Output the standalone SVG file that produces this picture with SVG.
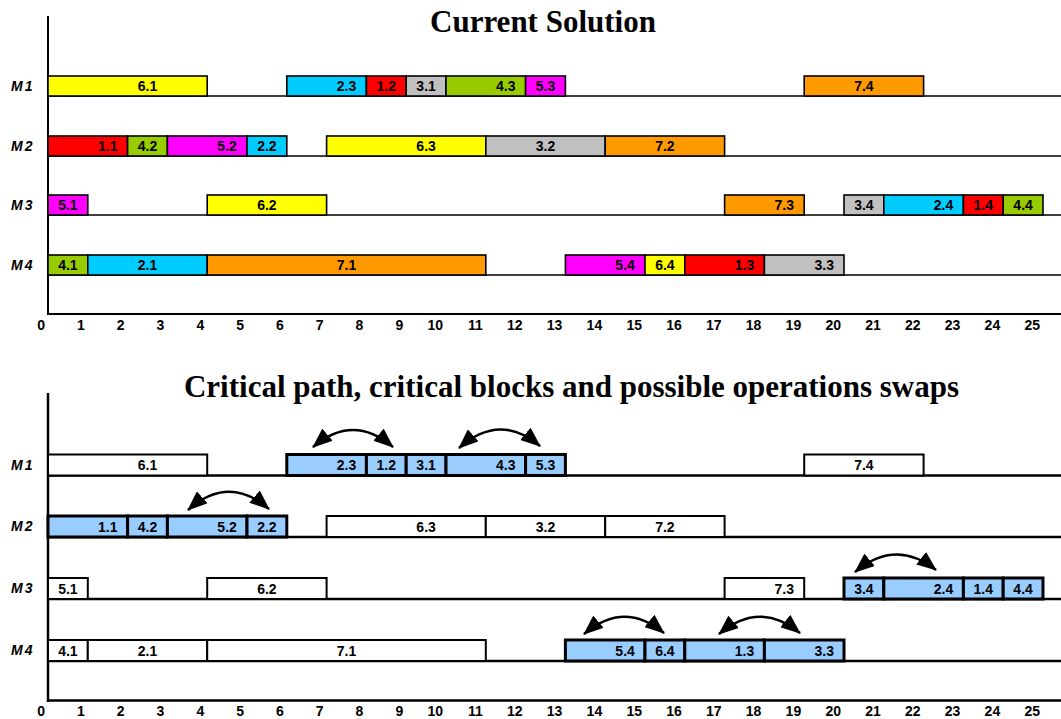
<svg xmlns="http://www.w3.org/2000/svg" width="1061" height="719" viewBox="0 0 1061 719">
<style>
.title{font-family:"Liberation Serif","Times New Roman",serif;font-weight:bold;font-size:31px;fill:#000;text-anchor:middle}
.lbl{font-family:"Liberation Sans",Arial,sans-serif;font-weight:bold;font-size:14px;fill:#000;text-anchor:middle}
.tick{font-family:"Liberation Sans",Arial,sans-serif;font-weight:bold;font-size:14px;fill:#000;text-anchor:end}
.mach{font-family:"Liberation Sans",Arial,sans-serif;font-weight:bold;font-style:italic;font-size:14px;letter-spacing:2px;fill:#000}
.bar{stroke:#000;stroke-width:1.6}
.wb{fill:#fff;stroke:#000;stroke-width:2}
.cb{fill:#99CCFF;stroke:#000;stroke-width:3}
.axis{stroke:#000;stroke-width:2;fill:none}
.axis2{stroke:#000;stroke-width:2.5;fill:none}
.row{stroke:#000;stroke-width:1.6;fill:none}
.row2{stroke:#000;stroke-width:2.5;fill:none}
.arc{stroke:#000;stroke-width:2.5;fill:none;marker-start:url(#ah);marker-end:url(#ah)}
.y{fill:#FFFF00}.c{fill:#00CCFF}.r{fill:#FF0000}.g{fill:#C0C0C0}.gr{fill:#99CC00}.m{fill:#FF00FF}.o{fill:#FF9900}
</style>
<defs>
<marker id="ah" viewBox="0 0 20 16" markerWidth="20" markerHeight="16" refX="19" refY="8" orient="auto-start-reverse" markerUnits="userSpaceOnUse">
<path d="M0,0 L20,8 L0,16 z" fill="#000"/>
</marker>
</defs>
<rect width="1061" height="719" fill="#fff"/>

<!-- ===== TOP CHART ===== -->
<text class="title" x="543" y="32">Current Solution</text>
<g id="top-axes">
<line class="row" x1="48" y1="96" x2="1061" y2="96"/>
<line class="row" x1="48" y1="156" x2="1061" y2="156"/>
<line class="row" x1="48" y1="215" x2="1061" y2="215"/>
<line class="row" x1="48" y1="275" x2="1061" y2="275"/>
<line class="axis" x1="48" y1="16" x2="48" y2="315"/>
<line class="axis" x1="47" y1="314" x2="1061" y2="314"/>
<text class="mach" x="11" y="91">M1</text>
<text class="mach" x="11" y="151">M2</text>
<text class="mach" x="11" y="210">M3</text>
<text class="mach" x="11" y="270">M4</text>
</g>
<g id="top-ticks">
<text class="tick" x="45" y="330">0</text><text class="tick" x="84.8" y="330">1</text><text class="tick" x="124.6" y="330">2</text><text class="tick" x="164.4" y="330">3</text><text class="tick" x="204.2" y="330">4</text><text class="tick" x="244" y="330">5</text><text class="tick" x="283.8" y="330">6</text><text class="tick" x="323.6" y="330">7</text><text class="tick" x="363.4" y="330">8</text><text class="tick" x="403.2" y="330">9</text><text class="tick" x="443" y="330">10</text><text class="tick" x="482.8" y="330">11</text><text class="tick" x="522.6" y="330">12</text><text class="tick" x="562.4" y="330">13</text><text class="tick" x="602.2" y="330">14</text><text class="tick" x="642" y="330">15</text><text class="tick" x="681.8" y="330">16</text><text class="tick" x="721.6" y="330">17</text><text class="tick" x="761.4" y="330">18</text><text class="tick" x="801.2" y="330">19</text><text class="tick" x="841" y="330">20</text><text class="tick" x="880.8" y="330">21</text><text class="tick" x="920.6" y="330">22</text><text class="tick" x="960.4" y="330">23</text><text class="tick" x="1000.2" y="330">24</text><text class="tick" x="1040" y="330">25</text>
</g>
<!-- M1 -->
<g id="t-6.1"><rect class="bar y" x="48" y="76" width="159.2" height="20"/><text class="lbl" x="147.5" y="91">6.1</text></g>
<g id="t-2.3"><rect class="bar c" x="286.8" y="76" width="79.6" height="20"/><text class="lbl" x="346.5" y="91">2.3</text></g>
<g id="t-1.2"><rect class="bar r" x="366.4" y="76" width="39.8" height="20"/><text class="lbl" x="386.3" y="91">1.2</text></g>
<g id="t-3.1"><rect class="bar g" x="406.2" y="76" width="39.8" height="20"/><text class="lbl" x="426.1" y="91">3.1</text></g>
<g id="t-4.3"><rect class="bar gr" x="446" y="76" width="79.6" height="20"/><text class="lbl" x="505.7" y="91">4.3</text></g>
<g id="t-5.3"><rect class="bar m" x="525.6" y="76" width="39.8" height="20"/><text class="lbl" x="545.5" y="91">5.3</text></g>
<g id="t-7.4"><rect class="bar o" x="804.2" y="76" width="119.4" height="20"/><text class="lbl" x="863.9" y="91">7.4</text></g>
<!-- M2 -->
<g id="t-1.1"><rect class="bar r" x="48" y="136" width="79.6" height="20"/><text class="lbl" x="107.7" y="151">1.1</text></g>
<g id="t-4.2"><rect class="bar gr" x="127.6" y="136" width="39.8" height="20"/><text class="lbl" x="147.5" y="151">4.2</text></g>
<g id="t-5.2"><rect class="bar m" x="167.4" y="136" width="79.6" height="20"/><text class="lbl" x="227.1" y="151">5.2</text></g>
<g id="t-2.2"><rect class="bar c" x="247" y="136" width="39.8" height="20"/><text class="lbl" x="266.9" y="151">2.2</text></g>
<g id="t-6.3"><rect class="bar y" x="326.6" y="136" width="159.2" height="20"/><text class="lbl" x="426.1" y="151">6.3</text></g>
<g id="t-3.2"><rect class="bar g" x="485.8" y="136" width="119.4" height="20"/><text class="lbl" x="545.5" y="151">3.2</text></g>
<g id="t-7.2"><rect class="bar o" x="605.2" y="136" width="119.4" height="20"/><text class="lbl" x="664.9" y="151">7.2</text></g>
<!-- M3 -->
<g id="t-5.1"><rect class="bar m" x="48" y="195" width="39.8" height="20"/><text class="lbl" x="67.9" y="210">5.1</text></g>
<g id="t-6.2"><rect class="bar y" x="207.2" y="195" width="119.4" height="20"/><text class="lbl" x="266.9" y="210">6.2</text></g>
<g id="t-7.3"><rect class="bar o" x="724.6" y="195" width="79.6" height="20"/><text class="lbl" x="784.3" y="210">7.3</text></g>
<g id="t-3.4"><rect class="bar g" x="844" y="195" width="39.8" height="20"/><text class="lbl" x="863.9" y="210">3.4</text></g>
<g id="t-2.4"><rect class="bar c" x="883.8" y="195" width="79.6" height="20"/><text class="lbl" x="943.5" y="210">2.4</text></g>
<g id="t-1.4"><rect class="bar r" x="963.4" y="195" width="39.8" height="20"/><text class="lbl" x="983.3" y="210">1.4</text></g>
<g id="t-4.4"><rect class="bar gr" x="1003.2" y="195" width="39.8" height="20"/><text class="lbl" x="1023.1" y="210">4.4</text></g>
<!-- M4 -->
<g id="t-4.1"><rect class="bar gr" x="48" y="255" width="39.8" height="20"/><text class="lbl" x="67.9" y="270">4.1</text></g>
<g id="t-2.1"><rect class="bar c" x="87.8" y="255" width="119.4" height="20"/><text class="lbl" x="147.5" y="270">2.1</text></g>
<g id="t-7.1"><rect class="bar o" x="207.2" y="255" width="278.6" height="20"/><text class="lbl" x="346.5" y="270">7.1</text></g>
<g id="t-5.4"><rect class="bar m" x="565.4" y="255" width="79.6" height="20"/><text class="lbl" x="625.1" y="270">5.4</text></g>
<g id="t-6.4"><rect class="bar y" x="645" y="255" width="39.8" height="20"/><text class="lbl" x="664.9" y="270">6.4</text></g>
<g id="t-1.3"><rect class="bar r" x="684.8" y="255" width="79.6" height="20"/><text class="lbl" x="744.5" y="270">1.3</text></g>
<g id="t-3.3"><rect class="bar g" x="764.4" y="255" width="79.6" height="20"/><text class="lbl" x="824.2" y="270">3.3</text></g>

<!-- ===== BOTTOM CHART ===== -->
<text class="title" x="571.5" y="397">Critical path, critical blocks and possible operations swaps</text>
<g id="bottom-axes">
<line class="row2" x1="48" y1="475.5" x2="1061" y2="475.5"/>
<line class="row2" x1="48" y1="537" x2="1061" y2="537"/>
<line class="row2" x1="48" y1="599" x2="1061" y2="599"/>
<line class="row2" x1="48" y1="661" x2="1061" y2="661"/>
<line class="axis2" x1="48" y1="393" x2="48" y2="702"/>
<line class="axis2" x1="47" y1="700.5" x2="1061" y2="700.5"/>
<text class="mach" x="11" y="470">M1</text>
<text class="mach" x="11" y="531">M2</text>
<text class="mach" x="11" y="593">M3</text>
<text class="mach" x="11" y="655">M4</text>
</g>
<g id="bottom-ticks">
<text class="tick" x="45" y="716">0</text><text class="tick" x="84.8" y="716">1</text><text class="tick" x="124.6" y="716">2</text><text class="tick" x="164.4" y="716">3</text><text class="tick" x="204.2" y="716">4</text><text class="tick" x="244" y="716">5</text><text class="tick" x="283.8" y="716">6</text><text class="tick" x="323.6" y="716">7</text><text class="tick" x="363.4" y="716">8</text><text class="tick" x="403.2" y="716">9</text><text class="tick" x="443" y="716">10</text><text class="tick" x="482.8" y="716">11</text><text class="tick" x="522.6" y="716">12</text><text class="tick" x="562.4" y="716">13</text><text class="tick" x="602.2" y="716">14</text><text class="tick" x="642" y="716">15</text><text class="tick" x="681.8" y="716">16</text><text class="tick" x="721.6" y="716">17</text><text class="tick" x="761.4" y="716">18</text><text class="tick" x="801.2" y="716">19</text><text class="tick" x="841" y="716">20</text><text class="tick" x="880.8" y="716">21</text><text class="tick" x="920.6" y="716">22</text><text class="tick" x="960.4" y="716">23</text><text class="tick" x="1000.2" y="716">24</text><text class="tick" x="1040" y="716">25</text>
</g>
<!-- M1 -->
<g id="b-6.1"><rect class="wb" x="48" y="454.5" width="159.2" height="21"/><text class="lbl" x="147.5" y="470">6.1</text></g>
<g id="b-2.3"><rect class="cb" x="286.8" y="454.5" width="79.6" height="21"/><text class="lbl" x="346.5" y="470">2.3</text></g>
<g id="b-1.2"><rect class="cb" x="366.4" y="454.5" width="39.8" height="21"/><text class="lbl" x="386.3" y="470">1.2</text></g>
<g id="b-3.1"><rect class="cb" x="406.2" y="454.5" width="39.8" height="21"/><text class="lbl" x="426.1" y="470">3.1</text></g>
<g id="b-4.3"><rect class="cb" x="446" y="454.5" width="79.6" height="21"/><text class="lbl" x="505.7" y="470">4.3</text></g>
<g id="b-5.3"><rect class="cb" x="525.6" y="454.5" width="39.8" height="21"/><text class="lbl" x="545.5" y="470">5.3</text></g>
<g id="b-7.4"><rect class="wb" x="804.2" y="454.5" width="119.4" height="21"/><text class="lbl" x="863.9" y="470">7.4</text></g>
<!-- M2 -->
<g id="b-1.1"><rect class="cb" x="48" y="516" width="79.6" height="21"/><text class="lbl" x="107.7" y="531.5">1.1</text></g>
<g id="b-4.2"><rect class="cb" x="127.6" y="516" width="39.8" height="21"/><text class="lbl" x="147.5" y="531.5">4.2</text></g>
<g id="b-5.2"><rect class="cb" x="167.4" y="516" width="79.6" height="21"/><text class="lbl" x="227.1" y="531.5">5.2</text></g>
<g id="b-2.2"><rect class="cb" x="247" y="516" width="39.8" height="21"/><text class="lbl" x="266.9" y="531.5">2.2</text></g>
<g id="b-6.3"><rect class="wb" x="326.6" y="516" width="159.2" height="21"/><text class="lbl" x="426.1" y="531.5">6.3</text></g>
<g id="b-3.2"><rect class="wb" x="485.8" y="516" width="119.4" height="21"/><text class="lbl" x="545.5" y="531.5">3.2</text></g>
<g id="b-7.2"><rect class="wb" x="605.2" y="516" width="119.4" height="21"/><text class="lbl" x="664.9" y="531.5">7.2</text></g>
<!-- M3 -->
<g id="b-5.1"><rect class="wb" x="48" y="578" width="39.8" height="21"/><text class="lbl" x="67.9" y="593.5">5.1</text></g>
<g id="b-6.2"><rect class="wb" x="207.2" y="578" width="119.4" height="21"/><text class="lbl" x="266.9" y="593.5">6.2</text></g>
<g id="b-7.3"><rect class="wb" x="724.6" y="578" width="79.6" height="21"/><text class="lbl" x="784.3" y="593.5">7.3</text></g>
<g id="b-3.4"><rect class="cb" x="844" y="578" width="39.8" height="21"/><text class="lbl" x="863.9" y="593.5">3.4</text></g>
<g id="b-2.4"><rect class="cb" x="883.8" y="578" width="79.6" height="21"/><text class="lbl" x="943.5" y="593.5">2.4</text></g>
<g id="b-1.4"><rect class="cb" x="963.4" y="578" width="39.8" height="21"/><text class="lbl" x="983.3" y="593.5">1.4</text></g>
<g id="b-4.4"><rect class="cb" x="1003.2" y="578" width="39.8" height="21"/><text class="lbl" x="1023.1" y="593.5">4.4</text></g>
<!-- M4 -->
<g id="b-4.1"><rect class="wb" x="48" y="640" width="39.8" height="21"/><text class="lbl" x="67.9" y="655.5">4.1</text></g>
<g id="b-2.1"><rect class="wb" x="87.8" y="640" width="119.4" height="21"/><text class="lbl" x="147.5" y="655.5">2.1</text></g>
<g id="b-7.1"><rect class="wb" x="207.2" y="640" width="278.6" height="21"/><text class="lbl" x="346.5" y="655.5">7.1</text></g>
<g id="b-5.4"><rect class="cb" x="565.4" y="640" width="79.6" height="21"/><text class="lbl" x="625.1" y="655.5">5.4</text></g>
<g id="b-6.4"><rect class="cb" x="645" y="640" width="39.8" height="21"/><text class="lbl" x="664.9" y="655.5">6.4</text></g>
<g id="b-1.3"><rect class="cb" x="684.8" y="640" width="79.6" height="21"/><text class="lbl" x="744.5" y="655.5">1.3</text></g>
<g id="b-3.3"><rect class="cb" x="764.4" y="640" width="79.6" height="21"/><text class="lbl" x="824.2" y="655.5">3.3</text></g>

<g id="connectors">
<path class="arc" d="M313,447 Q353,413 393,447"/>
<path class="arc" d="M459,448 Q499.5,412 540,446"/>
<path class="arc" d="M188,510 Q228.5,474 269,509"/>
<path class="arc" d="M855,572 Q895.5,538 936,570"/>
<path class="arc" d="M584,634 Q624,600 664,633"/>
<path class="arc" d="M719,634 Q759.5,600 800,633"/>
</g>
</svg>
